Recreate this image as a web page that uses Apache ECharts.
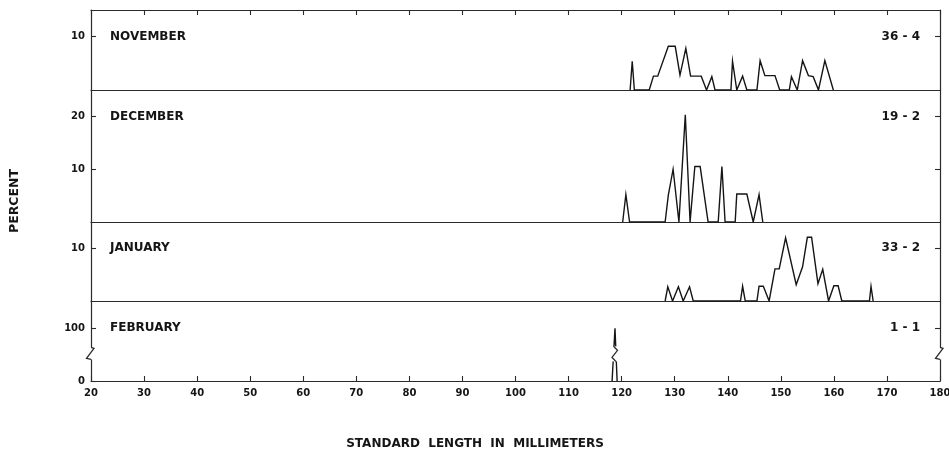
<!DOCTYPE html>
<html>
<head>
<meta charset="utf-8">
<script src="https://cdn.jsdelivr.net/npm/echarts@6/dist/echarts.min.js"></script>
<style>
  html, body { margin: 0; padding: 0; background: #fff; }
  #chart { width: 949px; height: 454px; }
</style>
</head>
<body>
<div id="chart"></div>
<script>
// Monthly length-frequency polygons: standard length (mm) against percent of sample.
const months = ['NOVEMBER', 'DECEMBER', 'JANUARY', 'FEBRUARY'];
const sampleCounts = ['36 - 4', '19 - 2', '33 - 2', '1 - 1'];
const xTickValues = [20, 30, 40, 50, 60, 70, 80, 90, 100, 110, 120, 130, 140, 150, 160, 170, 180];

const novLength = [121.6, 122.0, 122.4,
  125.2, 126.0, 126.8, 128.8, 130.1, 131.0, 132.1, 133.0, 135.0, 136.0, 137.0, 137.6,
  140.6, 140.9, 141.7, 142.8, 143.6,
  145.5, 146.1, 147.0, 148.9, 149.8,
  151.6, 152.0, 153.1, 154.1, 155.2, 156.1, 157.1, 158.3, 159.9];
const novPercent = [0, 5.4, 0,
  0, 2.6, 2.6, 8.2, 8.2, 2.8, 7.8, 2.6, 2.6, 0, 2.5, 0,
  0, 5.4, 0, 2.6, 0,
  0, 5.5, 2.7, 2.7, 0,
  0, 2.5, 0, 5.5, 2.7, 2.5, 0, 5.5, 0];

const decLength = [120.2, 120.8, 121.5,
  128.2, 128.8, 129.7, 130.8, 132.0, 132.9, 133.8, 134.8, 136.3,
  138.2, 138.9, 139.5,
  141.4, 141.7, 143.6, 144.8, 145.9, 146.6];
const decPercent = [0, 5.2, 0,
  0, 5.1, 10.0, 0, 20.3, 0, 10.5, 10.5, 0,
  0, 10.5, 0,
  0, 5.3, 5.3, 0, 5.2, 0];

const janLength = [128.2, 128.7, 129.6, 130.7, 131.6, 132.8, 133.5,
  142.4, 142.8, 143.3,
  145.5, 145.9, 146.7, 147.8, 148.9, 149.7, 150.9, 152.9, 154.1, 155.0, 155.8, 157.0, 157.9, 159.0, 160.0, 160.8, 161.5,
  166.7, 167.0, 167.4];
const janPercent = [0, 2.7, 0, 2.7, 0, 2.7, 0,
  0, 2.8, 0,
  0, 2.8, 2.8, 0, 6.1, 6.1, 12.0, 3.1, 6.5, 12.1, 12.1, 3.3, 6.0, 0, 2.9, 2.9, 0,
  0, 2.8, 0];

const febLength = [118.2, 118.75, 119.15];
const febPercent = [0, 100, 0];

const lengthSeries = [novLength, decLength, janLength, febLength];
const percentSeries = [novPercent, decPercent, janPercent, febPercent];

// Percent ticks shown on each panel's vertical axis
const percentTicks = [[10], [10, 20], [10], [0, 100]];
const percentMax = [15, 25, 15, 152];

// Panel layout (px)
const panelTop = [10, 90, 222, 301];
const panelHeight = [80, 132, 79, 80];
const plotLeft = 91, plotRight = 9;

const FONT = "'DejaVu Sans', sans-serif";
const INK = '#151515';
const AXIS = '#2a2a2a';

const chart = echarts.init(document.getElementById('chart'), null, { renderer: 'canvas' });

const grid = [], xAxis = [], yAxis = [], series = [];
for (let i = 0; i < 4; i++) {
  const last = i === 3;
  grid.push({
    left: plotLeft, right: plotRight, top: panelTop[i], height: panelHeight[i],
    containLabel: false, outerBoundsMode: 'none'
  });
  xAxis.push({
    type: 'value', gridIndex: i, min: 20, max: 180, interval: 10, position: 'bottom',
    axisLine: { show: true, onZero: false, lineStyle: { color: AXIS, width: 1.2 } },
    axisTick: { show: last, inside: true, length: 5, lineStyle: { color: AXIS, width: 1.1 } },
    axisLabel: {
      show: last, margin: 7, color: INK, fontFamily: FONT, fontSize: 10, fontWeight: 'bold',
      customValues: xTickValues
    },
    splitLine: { show: false }
  });
  yAxis.push({
    type: 'value', gridIndex: i, min: 0, max: percentMax[i], position: 'left',
    axisLine: { show: true, onZero: false, lineStyle: { color: AXIS, width: 1.2 } },
    axisTick: { show: true, inside: true, length: 5, customValues: percentTicks[i], lineStyle: { color: AXIS, width: 1.1 } },
    axisLabel: { show: true, margin: 6, color: INK, fontFamily: FONT, fontSize: 10, fontWeight: 'bold', customValues: percentTicks[i] },
    splitLine: { show: false }
  });
  yAxis.push({
    type: 'value', gridIndex: i, min: 0, max: percentMax[i], position: 'right',
    axisLine: { show: true, onZero: false, lineStyle: { color: AXIS, width: 1.2 } },
    axisTick: { show: true, inside: true, length: 5, customValues: percentTicks[i].filter(v => v > 0), lineStyle: { color: AXIS, width: 1.1 } },
    axisLabel: { show: false },
    splitLine: { show: false }
  });
  series.push({
    type: 'line', name: months[i], xAxisIndex: i, yAxisIndex: i * 2,
    data: lengthSeries[i].map((v, k) => [v, percentSeries[i][k]]),
    symbol: 'none', smooth: false, z: 5,
    lineStyle: { color: INK, width: 1.4, join: 'miter' }
  });
}
// Tick marks along the top edge of the first panel
xAxis.push({
  type: 'value', gridIndex: 0, min: 20, max: 180, interval: 10, position: 'top',
  axisLine: { show: true, onZero: false, lineStyle: { color: AXIS, width: 1.2 } },
  axisTick: { show: true, inside: true, length: 5, lineStyle: { color: AXIS, width: 1.1 } },
  axisLabel: { show: false },
  splitLine: { show: false }
});

chart.setOption({
  backgroundColor: '#fff',
  animation: false,
  grid, xAxis, yAxis, series
});

// Panel captions, axis titles and the scale-break marks on the February panel
const graphic = [];
const labelFont = 'bold 12px ' + FONT;
for (let i = 0; i < 4; i++) {
  const topTick = Math.max(...percentTicks[i]);
  const y = chart.convertToPixel({ gridIndex: i }, [20, topTick])[1];
  graphic.push({
    type: 'text', x: 110, y: y, z: 20,
    style: { text: months[i], font: labelFont, fill: INK, align: 'left', verticalAlign: 'middle', textAlign: 'left', textVerticalAlign: 'middle' }
  });
  graphic.push({
    type: 'text', x: 920, y: y, z: 20,
    style: { text: sampleCounts[i], font: labelFont, fill: INK, align: 'right', verticalAlign: 'middle', textAlign: 'right', textVerticalAlign: 'middle' }
  });
}
graphic.push({
  type: 'text', x: 15, y: 201, rotation: Math.PI / 2, z: 20,
  style: { text: 'PERCENT', font: 'bold 12.5px ' + FONT, fill: INK, align: 'center', verticalAlign: 'middle', textAlign: 'center', textVerticalAlign: 'middle' }
});
graphic.push({
  type: 'text', x: 475, y: 444, z: 20,
  style: { text: 'STANDARD  LENGTH  IN  MILLIMETERS', font: 'bold 12px ' + FONT, fill: INK, align: 'center', verticalAlign: 'middle', textAlign: 'center', textVerticalAlign: 'middle' }
});

// Scale break on the February percent axis, between these two values
const breakHigh = 64, breakLow = 41;
const pHigh = chart.convertToPixel({ gridIndex: 3 }, [20, breakHigh]);
const pLow = chart.convertToPixel({ gridIndex: 3 }, [180, breakLow]);
const yT = pHigh[1], yB = pLow[1];
const leftX = pHigh[0], rightX = pLow[0];
const peakX = chart.convertToPixel({ gridIndex: 3 }, [febLength[1], 0])[0];
const breakStyle = { stroke: AXIS, lineWidth: 1.3, fill: null };

function axisBreak(ax) {
  graphic.push({ type: 'rect', z: 30, shape: { x: ax - 2, y: yT, width: 4, height: yB - yT }, style: { fill: '#fff' } });
  graphic.push({
    type: 'polyline', z: 31,
    shape: { points: [[ax, yT], [ax + 3, yT + 1], [ax - 4.5, yB - 1], [ax, yB]] },
    style: breakStyle
  });
}
axisBreak(leftX);
axisBreak(rightX);
// break drawn through the February peak
graphic.push({ type: 'rect', z: 30, shape: { x: peakX - 4, y: yT - 1, width: 8, height: yB - yT + 3 }, style: { fill: '#fff' } });
graphic.push({
  type: 'polyline', z: 31,
  shape: { points: [[peakX - 1.5, yT - 1], [peakX + 2.5, yT + 3], [peakX - 3, yB - 2], [peakX + 1, yB + 2]] },
  style: breakStyle
});

chart.setOption({ graphic });
</script>
</body>
</html>
